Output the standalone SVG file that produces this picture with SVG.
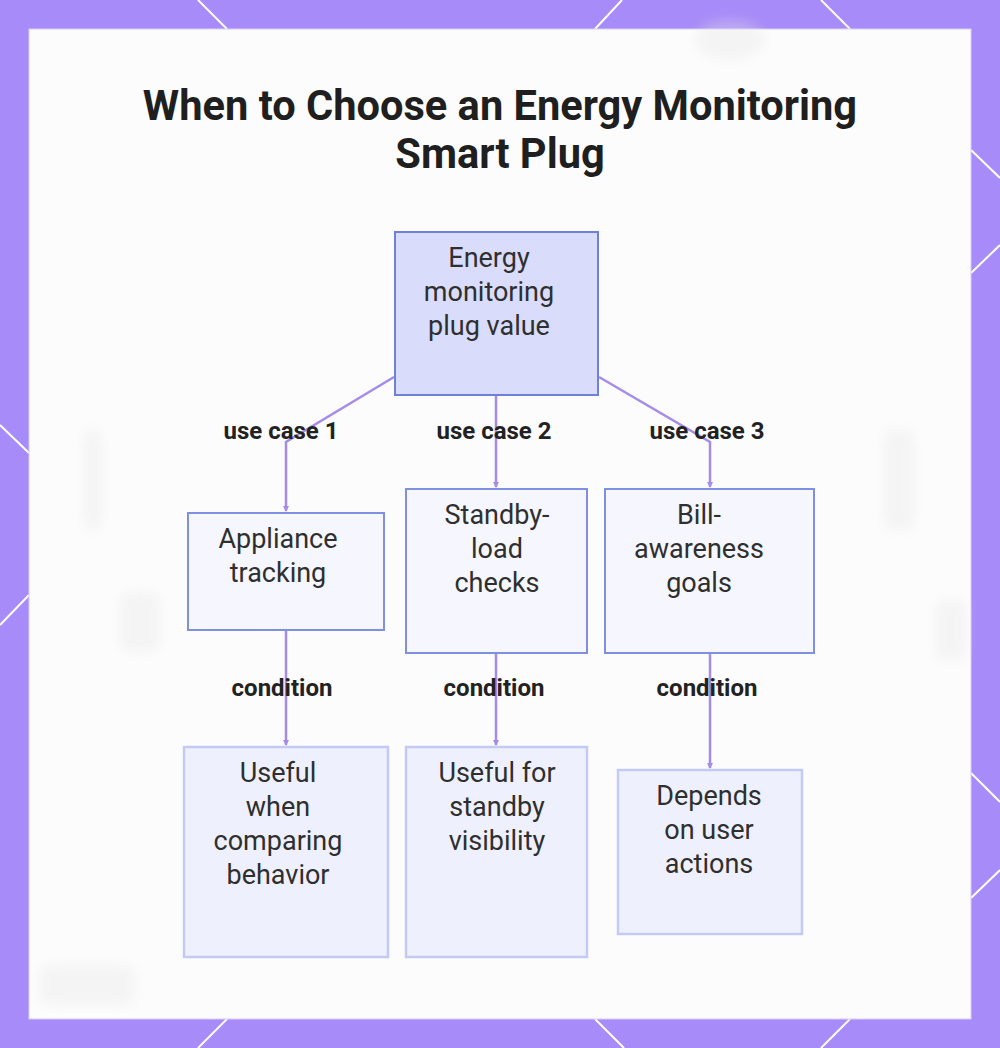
<svg xmlns="http://www.w3.org/2000/svg" width="1000" height="1048" viewBox="0 0 1000 1048">
  <style>
    .title { font-family: Roboto, "Liberation Sans", sans-serif; font-weight: 700; font-size: 41.6px; fill: #1f1f1f; text-anchor: middle; }
    .ntext { font-family: Roboto, "Liberation Sans", sans-serif; font-size: 27px; fill: #2f2f2f; text-anchor: middle; }
    .elabel { font-family: Roboto, "Liberation Sans", sans-serif; font-weight: 700; font-size: 24px; fill: #222222; text-anchor: middle; }
    .root { fill: #d9dcfb; stroke: #6f80d8; stroke-width: 2; }
    .mid { fill: #f5f6fe; stroke: #7f90e0; stroke-width: 2; }
    .leaf { fill: #eef1fd; stroke: #c3cbf4; stroke-width: 2.5; }
    .edge { fill: none; stroke: #a68ce9; stroke-width: 2.5; }
    .deco { stroke: #ffffff; stroke-width: 2; }
  </style>
  <defs>
    <marker id="arrow" viewBox="0 0 6 6" refX="5" refY="3" markerWidth="6" markerHeight="6" markerUnits="userSpaceOnUse" orient="auto">
      <path d="M0,0 L6,3 L0,6 z" fill="#a68ce9"/>
    </marker>
    <filter id="blur" x="-50%" y="-50%" width="200%" height="200%">
      <feGaussianBlur stdDeviation="6"/>
    </filter>
  </defs>

  <!-- frame -->
  <rect x="0" y="0" width="1000" height="1048" fill="#a78bf8"/>
  <g class="deco">
    <line x1="198" y1="0" x2="227" y2="29"/>
    <line x1="622" y1="0" x2="595" y2="29"/>
    <line x1="821" y1="0" x2="850" y2="29"/>
    <line x1="227" y1="1019" x2="198" y2="1048"/>
    <line x1="595" y1="1019" x2="624" y2="1048"/>
    <line x1="850" y1="1019" x2="821" y2="1048"/>
    <line x1="0" y1="425" x2="29" y2="453"/>
    <line x1="29" y1="595" x2="0" y2="625"/>
    <line x1="971" y1="150" x2="1000" y2="178"/>
    <line x1="1000" y1="245" x2="971" y2="273"/>
    <line x1="971" y1="773" x2="1000" y2="802"/>
    <line x1="1000" y1="870" x2="971" y2="898"/>
  </g>
  <rect x="29" y="29" width="942" height="990" fill="#fcfcfc" stroke="#d8cdfb" stroke-width="1"/>

  <!-- faint blurred background -->
  <g filter="url(#blur)" fill="#e6e6e6" opacity="0.35">
    <rect x="84" y="430" width="18" height="100" rx="6"/>
    <rect x="884" y="430" width="30" height="100" rx="6"/>
    <rect x="120" y="592" width="40" height="60" rx="10"/>
    <rect x="936" y="600" width="30" height="60" rx="8"/>
    <rect x="40" y="965" width="95" height="40" rx="10"/>
    <ellipse cx="730" cy="40" rx="35" ry="20"/>
  </g>

  <!-- title -->
  <g id="title">
    <text class="title" x="500" y="120">When to Choose an Energy Monitoring</text>
    <text class="title" x="500" y="168">Smart Plug</text>
  </g>

  <!-- connectors -->
  <g id="connectors">
    <polyline class="edge" points="394,377 286,442 286,511" marker-end="url(#arrow)"/>
    <line class="edge" x1="496" y1="396" x2="496" y2="487" marker-end="url(#arrow)"/>
    <polyline class="edge" points="599,377 710,442 710,487" marker-end="url(#arrow)"/>
    <line class="edge" x1="286" y1="631" x2="286" y2="745" marker-end="url(#arrow)"/>
    <line class="edge" x1="496" y1="654" x2="496" y2="745" marker-end="url(#arrow)"/>
    <line class="edge" x1="710" y1="654" x2="710" y2="768" marker-end="url(#arrow)"/>
  </g>

  <!-- nodes -->
  <g id="node-root">
    <rect class="root" x="395" y="232" width="203" height="163"/>
    <text class="ntext" x="489" y="267">Energy</text>
    <text class="ntext" x="489" y="301">monitoring</text>
    <text class="ntext" x="489" y="335">plug value</text>
  </g>
  <g id="node-appliance">
    <rect class="mid" x="188" y="513" width="196" height="117"/>
    <text class="ntext" x="278" y="548">Appliance</text>
    <text class="ntext" x="278" y="582">tracking</text>
  </g>
  <g id="node-standby">
    <rect class="mid" x="406" y="489" width="181" height="164"/>
    <text class="ntext" x="497" y="524">Standby-</text>
    <text class="ntext" x="497" y="558">load</text>
    <text class="ntext" x="497" y="592">checks</text>
  </g>
  <g id="node-bill">
    <rect class="mid" x="605" y="489" width="209" height="164"/>
    <text class="ntext" x="699" y="524">Bill-</text>
    <text class="ntext" x="699" y="558">awareness</text>
    <text class="ntext" x="699" y="592">goals</text>
  </g>
  <g id="node-useful-when">
    <rect class="leaf" x="184" y="747" width="204" height="210"/>
    <text class="ntext" x="278" y="782">Useful</text>
    <text class="ntext" x="278" y="816">when</text>
    <text class="ntext" x="278" y="850">comparing</text>
    <text class="ntext" x="278" y="884">behavior</text>
  </g>
  <g id="node-useful-for">
    <rect class="leaf" x="406" y="747" width="181" height="210"/>
    <text class="ntext" x="497" y="782">Useful for</text>
    <text class="ntext" x="497" y="816">standby</text>
    <text class="ntext" x="497" y="850">visibility</text>
  </g>
  <g id="node-depends">
    <rect class="leaf" x="618" y="770" width="184" height="164"/>
    <text class="ntext" x="709" y="805">Depends</text>
    <text class="ntext" x="709" y="839">on user</text>
    <text class="ntext" x="709" y="873">actions</text>
  </g>

  <!-- edge labels -->
  <g id="edge-labels">
    <text class="elabel" x="281" y="439">use case 1</text>
    <text class="elabel" x="494" y="439">use case 2</text>
    <text class="elabel" x="707" y="439">use case 3</text>
    <text class="elabel" x="282" y="696">condition</text>
    <text class="elabel" x="494" y="696">condition</text>
    <text class="elabel" x="707" y="696">condition</text>
  </g>
</svg>
